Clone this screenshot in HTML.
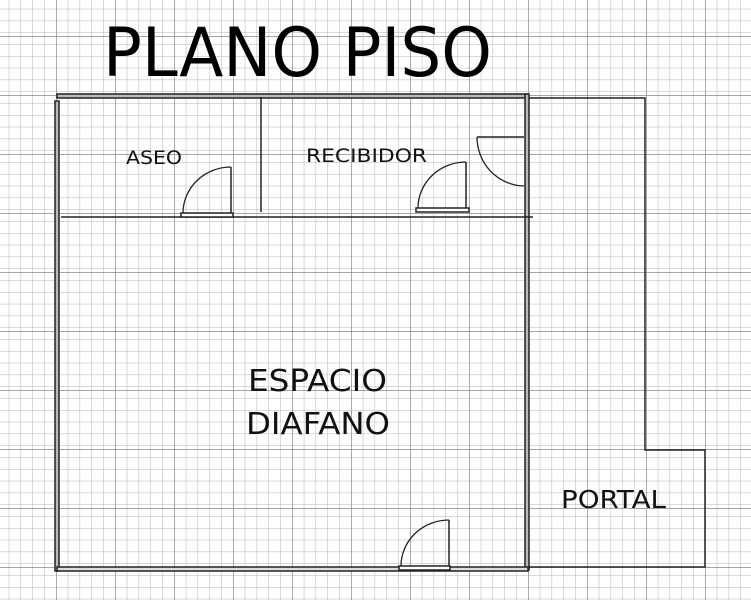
<!DOCTYPE html>
<html><head><meta charset="utf-8"><style>html,body{margin:0;padding:0;background:#fff}svg{display:block}</style></head>
<body>
<svg width="751" height="600" viewBox="0 0 751 600" xmlns="http://www.w3.org/2000/svg">
<defs>
<pattern id="minor" x="-3" y="-3" width="11.8" height="11.8" patternUnits="userSpaceOnUse">
<path d="M0 0H11.8M0 0V11.8" stroke="#b4b4b4" stroke-width="1" fill="none"/>
</pattern>
<pattern id="major" x="-3" y="-23" width="59" height="59" patternUnits="userSpaceOnUse">
<path d="M0 0H59M0 0V59" stroke="#888" stroke-width="1.4" fill="none"/>
</pattern>
</defs>
<rect width="751" height="600" fill="#fff"/>
<rect width="751" height="600" fill="url(#minor)"/>
<rect width="751" height="600" fill="url(#major)"/>

<text x="103" y="76" font-family="DejaVu Sans, Liberation Sans, sans-serif" font-size="68" textLength="389" lengthAdjust="spacingAndGlyphs" fill="#000">PLANO PISO</text>

<g fill="none" stroke="#222">
<rect x="57" y="94" width="471" height="4" stroke-width="1.5" fill="#bbb"/>
<rect x="55" y="101" width="4" height="470" stroke-width="1.5" fill="#bbb"/>
<rect x="525" y="94" width="4" height="476" stroke-width="1.5" fill="#bbb"/>
<rect x="57" y="567" width="471" height="4" stroke-width="1.5" fill="#ddd"/>
<line x1="61" y1="217" x2="533" y2="217" stroke-width="1.5"/>
<line x1="261" y1="97" x2="261" y2="212" stroke-width="1.5"/>
<polyline points="529,98 645,98 645,450 705,450 705,567 529,567" stroke-width="1.5"/>
<rect x="181" y="213" width="52" height="4" fill="#fff" stroke-width="1.5"/>
<line x1="231" y1="167" x2="231" y2="213" stroke-width="1.5"/>
<path d="M183 213 A48 46 0 0 1 231 167" stroke-width="1.3"/>
<rect x="416" y="208" width="53" height="4" fill="#fff" stroke-width="1.5"/>
<line x1="466" y1="162" x2="466" y2="208" stroke-width="1.5"/>
<path d="M418 208 A48 46 0 0 1 466 162" stroke-width="1.3"/>
<line x1="477" y1="137" x2="524" y2="137" stroke-width="1.5"/>
<path d="M477 137 A48 49 0 0 0 524 186" stroke-width="1.3"/>
<rect x="399" y="566" width="51" height="4" fill="#fff" stroke-width="1.5"/>
<line x1="449" y1="520" x2="449" y2="566" stroke-width="1.5"/>
<path d="M401 566 A48 46 0 0 1 449 520" stroke-width="1.3"/>
</g>

<g font-family="DejaVu Sans, Liberation Sans, sans-serif" fill="#111" lengthAdjust="spacingAndGlyphs">
<text x="126" y="164" font-size="19" textLength="56" lengthAdjust="spacingAndGlyphs">ASEO</text>
<text x="306" y="162" font-size="19" textLength="121" lengthAdjust="spacingAndGlyphs">RECIBIDOR</text>
<text x="248" y="391" font-size="30" textLength="139" lengthAdjust="spacingAndGlyphs">ESPACIO</text>
<text x="246" y="434" font-size="30" textLength="144" lengthAdjust="spacingAndGlyphs">DIAFANO</text>
<text x="561" y="508" font-size="25" textLength="105" lengthAdjust="spacingAndGlyphs">PORTAL</text>
</g>
</svg>
</body></html>
